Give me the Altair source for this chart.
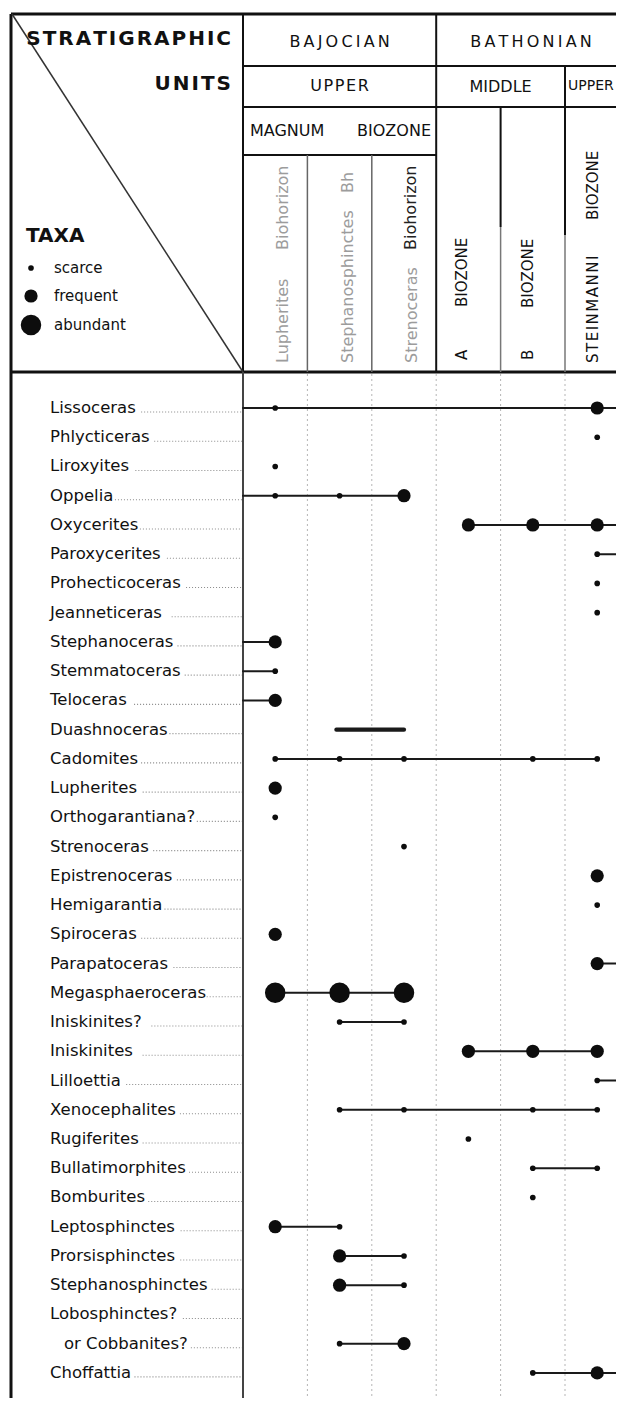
import altair as alt
import pandas as pd

# ---------------- data ----------------
taxa = ["Lissoceras", "Phlycticeras", "Liroxyites", "Oppelia", "Oxycerites",
        "Paroxycerites", "Prohecticoceras", "Jeanneticeras", "Stephanoceras",
        "Stemmatoceras", "Teloceras", "Duashnoceras", "Cadomites", "Lupherites",
        "Orthogarantiana?", "Strenoceras", "Epistrenoceras", "Hemigarantia",
        "Spiroceras", "Parapatoceras", "Megasphaeroceras", "Iniskinites?",
        "Iniskinites", "Lilloettia", "Xenocephalites", "Rugiferites",
        "Bullatimorphites", "Bomburites", "Leptosphinctes", "Prorsisphinctes",
        "Stephanosphinctes", "Lobosphinctes?", "or Cobbanites?", "Choffattia"]

# one character per unit column: s = scarce, f = frequent, a = abundant, . = absent
occurrence = ["s....f", ".....s", "s.....", "ssf...", "...fff",
              ".....s", ".....s", ".....s", "f.....",
              "s.....", "f.....", "......", "sss.ss", "f.....",
              "s.....", "..s...", ".....f", ".....s",
              "f.....", ".....f", "aaa...", ".ss...",
              "...fff", ".....s", ".ss.ss", "...s..",
              "....ss", "....s.", "fs....", ".fs...",
              ".fs...", "......", ".sf...", "....sf"]

# range bars in unit-column index (-0.5 = left edge of table, 6 = continues past last column)
range_from = [-0.5, None, None, -0.5, 3, 5, None, None, -0.5, -0.5, -0.5, 0.95, 0, None,
              None, None, None, None, None, 5, 0, 1, 3, 5, 1, None, 4, None, 0, 1, 1,
              None, 1, 4]
range_to = [6, None, None, 2, 6, 6, None, None, 0, 0, 0, 2, 5, None,
            None, None, None, None, None, 6, 2, 2, 5, 6, 5, None, 5, None, 1, 2, 2,
            None, 2, 6]
heavy_ranges = ["Duashnoceras"]

unit_columns = ["Lupherites Biohorizon", "Stephanosphinctes Bh", "Strenoceras Biohorizon",
                "A Biozone", "B Biozone", "Steinmanni Biozone"]
abundance_levels = ["scarce", "frequent", "abundant"]
code_to_level = {"s": "scarce", "f": "frequent", "a": "abundant"}

stage_names = ["BAJOCIAN", "BATHONIAN"]
substage_names = ["UPPER", "MIDDLE", "UPPER"]
zone_words = ["MAGNUM", "BIOZONE"]

# ---------------- layout / style ----------------
FONT = "DejaVu Sans"
W, H = 608, 1390
LEFT_OFF, TOP_OFF = 8, 8
TABLE_X0, COL_W = 243.0, 64.4
ROW_Y0, ROW_H = 408.0, 29.24
TOP_LINE = 14
DOT_AREA = {"scarce": 32, "frequent": 175, "abundant": 420}


def ux(p):
    return (p - TABLE_X0) / COL_W


def uy(p):
    return (p - ROW_Y0) / ROW_H


def colx(k):
    return TABLE_X0 + k * COL_W


xs = alt.Scale(domain=[ux(LEFT_OFF), ux(LEFT_OFF + W)], nice=False, zero=False)
ys = alt.Scale(domain=[uy(TOP_OFF), uy(TOP_OFF + H)], reverse=True, nice=False, zero=False)


def XE():
    return alt.X("x:Q", scale=xs, axis=None)


def YE():
    return alt.Y("y:Q", scale=ys, axis=None)


def rule_layer(rows, dash=None, cap="butt"):
    df = pd.DataFrame([dict(x=ux(a), y=uy(b), x2=ux(c), y2=uy(d), w=w, c=col)
                       for a, b, c, d, w, col in rows])
    kw = dict(clip=True, strokeCap=cap)
    if dash:
        kw["strokeDash"] = dash
    return alt.Chart(df).mark_rule(**kw).encode(
        x=XE(), x2="x2:Q", y=YE(), y2="y2:Q",
        size=alt.Size("w:Q", scale=None, legend=None),
        color=alt.Color("c:N", scale=None, legend=None))


def text_layer(items, **kw):
    df = pd.DataFrame([dict(t=t, x=ux(a), y=uy(b)) for t, a, b in items])
    kw.setdefault("font", FONT)
    kw.setdefault("baseline", "middle")
    return alt.Chart(df).mark_text(**kw).encode(x=XE(), y=YE(), text="t:N")


BOTTOM = TOP_OFF + H + 20
frame = [
    (11, TOP_LINE, 630, TOP_LINE, 3, "#111"),
    (11, TOP_LINE, 11, BOTTOM, 3, "#111"),
    (11, 372, 630, 372, 3, "#111"),
    (colx(0), 66, 630, 66, 2, "#111"),
    (colx(0), 107, 630, 107, 2, "#111"),
    (colx(0), 155, colx(3), 155, 2, "#111"),
    (colx(0), TOP_LINE, colx(0), 372, 2, "#111"),
    (colx(0), 372, colx(0), BOTTOM, 2, "#444"),
    (colx(3), TOP_LINE, colx(3), 372, 2, "#111"),
    (colx(5), 66, colx(5), 235, 2, "#111"),
    (colx(5), 235, colx(5), 372, 1.5, "#777"),
    (colx(4), 107, colx(4), 227, 2, "#111"),
    (colx(4), 227, colx(4), 372, 1.5, "#777"),
    (colx(1), 155, colx(1), 372, 1.5, "#666"),
    (colx(2), 155, colx(2), 372, 1.5, "#666"),
    (12, TOP_LINE, colx(0), 372, 1.5, "#333"),
]
grid = [(colx(k), 374, colx(k), BOTTOM, 1, "#b5b5b5") for k in range(1, 6)]

# ---- label leaders (dotted lines from end of each label to the table) ----
CW = {'a': .613, 'b': .635, 'c': .55, 'd': .635, 'e': .615, 'f': .352, 'g': .635,
      'h': .634, 'i': .278, 'j': .278, 'k': .579, 'l': .278, 'm': .974, 'n': .634,
      'o': .612, 'p': .635, 'q': .635, 'r': .411, 's': .521, 't': .392, 'u': .634,
      'v': .592, 'w': .818, 'x': .592, 'y': .592, 'z': .525, '?': .531, ' ': .318}
LABEL_SIZE = 16.5


def text_width(s, size):
    return sum(CW.get(ch, .70) for ch in s) * size


label_items, leaders = [], []
for i, name in enumerate(taxa):
    lx = 64 if name.startswith("or ") else 50
    py = ROW_Y0 + i * ROW_H
    label_items.append((name, lx, py))
    start = lx + text_width(name, LABEL_SIZE) + 3
    leaders.append((start, py + 4, colx(0), py + 4, 1.1, "#8a8a8a"))

# ---- occurrences and ranges (through the scales) ----
dots = []
for i, code in enumerate(occurrence):
    for j, ch in enumerate(code):
        if ch != ".":
            lvl = code_to_level[ch]
            dots.append(dict(taxon=taxa[i], y=i, x=j + 0.5, level=lvl, s=DOT_AREA[lvl]))
dots = pd.DataFrame(dots)

ranges = []
for i, (a, b) in enumerate(zip(range_from, range_to)):
    if a is not None:
        ranges.append(dict(taxon=taxa[i], y=i, x=a + 0.5, x2=b + 0.5,
                           w=4.2 if taxa[i] in heavy_ranges else 2.0))
ranges = pd.DataFrame(ranges)

range_layer = alt.Chart(ranges).mark_rule(clip=True, color="#1a1a1a", strokeCap="round").encode(
    x=XE(), x2="x2:Q", y=YE(), size=alt.Size("w:Q", scale=None, legend=None))

dot_layer = alt.Chart(dots).mark_circle(opacity=1, color="#0d0d0d", clip=True).encode(
    x=XE(), y=YE(),
    size=alt.Size("s:Q", scale=None, legend=None),
    tooltip=["taxon:N", "level:N"])

legend_df = pd.DataFrame([dict(level=l, x=ux(31), y=uy(py), s=DOT_AREA[l])
                          for l, py in zip(abundance_levels, [268, 296, 325])])
legend_dots = alt.Chart(legend_df).mark_circle(opacity=1, color="#0d0d0d").encode(
    x=XE(), y=YE(), size=alt.Size("s:Q", scale=None, legend=None))

HS = "\u200a"   # hair space
TS = "\u2009"   # thin space


def spaced(s, sp):
    return sp.join(list(s))


layers = [
    rule_layer(grid, dash=[2, 3]),
    rule_layer(leaders, dash=[1, 2]),
    rule_layer(frame),
    range_layer,
    dot_layer,
    legend_dots,
    # left panel header
    text_layer([(spaced("STRATIGRAPHIC", HS), 231, 39), (spaced("UNITS", HS), 231, 84)],
               align="right", fontSize=20, fontWeight="bold", color="#111"),
    text_layer([("TAXA", 26, 236)], align="left", fontSize=20, fontWeight="bold", color="#111"),
    text_layer([(l, 54, py) for l, py in zip(abundance_levels, [268, 296, 325])],
               align="left", fontSize=15, color="#111"),
    # stage / substage / zone cells
    text_layer([(spaced(stage_names[0], TS), (colx(0) + colx(3)) / 2, 42),
                (spaced(stage_names[1], TS), 531, 42),
                (spaced(substage_names[0], HS), (colx(0) + colx(3)) / 2, 86),
                (substage_names[1], (colx(3) + colx(5)) / 2, 87)],
               align="center", fontSize=16, color="#111"),
    text_layer([(zone_words[0], 250, 131)], align="left", fontSize=16, color="#111"),
    text_layer([(substage_names[2], 568, 86)], align="left", fontSize=14, color="#111"),
    text_layer([(zone_words[1], 431, 131)], align="right", fontSize=16, color="#111"),
    # rotated unit-column headings
    text_layer([("Lupherites", 283, 363), ("Biohorizon", 283, 250),
                ("Stephanosphinctes", 348, 363), ("Bh", 348, 193),
                ("Strenoceras", 412, 363)],
               align="left", angle=270, fontSize=16, color="#9c9c9c"),
    text_layer([("Biohorizon", 411, 250)],
               align="left", angle=270, fontSize=16, color="#222"),
    text_layer([("A", 462, 360), ("BIOZONE", 462, 307),
                ("B", 528, 360), ("BIOZONE", 528, 308),
                (spaced("STEINMANNI", HS), 593, 363), ("BIOZONE", 593, 220)],
               align="left", angle=270, fontSize=15, color="#111"),
    # taxon labels
    text_layer(label_items, align="left", fontSize=LABEL_SIZE, color="#111"),
]

chart = alt.layer(*layers).properties(
    width=W, height=H, autosize=alt.AutoSizeParams(type="none"), padding=0,
    background="white"
).configure_view(strokeWidth=0)

chart.save("out.html", embed_options={"renderer": "svg", "actions": False})
